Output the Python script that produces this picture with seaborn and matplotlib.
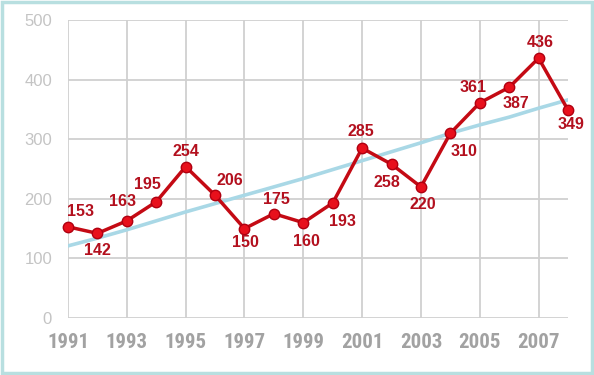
import matplotlib
matplotlib.use("Agg")
import matplotlib.pyplot as plt
from matplotlib.patches import Rectangle
import seaborn as sns
import pandas as pd

years = list(range(1991, 2009))
values = [153, 142, 163, 195, 254, 206, 150, 175, 160, 193, 285, 258, 220, 310, 361, 387, 436, 349]
trend = [121, 134, 148, 163, 178, 192, 206, 220, 234, 249, 264, 279, 294, 310, 324, 337, 352, 366]
xtick_years = [1991, 1993, 1995, 1997, 1999, 2001, 2003, 2005, 2007]
ytick_vals = [0, 100, 200, 300, 400, 500]
# label offsets in pixels (dx, dy), dy positive = up
label_offsets = [(13, 15), (0, -17), (-4, 19), (-9, 17), (0, 15), (15, 15), (1, -14), (3, 14),
                 (3, -19), (10, -19), (-1, 17), (-5, -18), (2, -18), (14, -18), (-7, 15), (7, -16),
                 (2, 16), (3, -15)]

df = pd.DataFrame({"year": years, "value": values, "trend": trend})

sns.set_style("white")
plt.rcParams["font.family"] = ["Liberation Sans", "DejaVu Sans"]

fig = plt.figure(figsize=(5.94, 3.75), dpi=100)
fig.patch.set_facecolor("white")
fig.patches.append(Rectangle((0.003, 0.005), 0.994, 0.99, transform=fig.transFigure,
                             fill=False, edgecolor="#b8dfe0", linewidth=2.5))
ax = fig.add_axes([68 / 594, 57 / 375, 500 / 594, 298 / 375])

sns.lineplot(data=df, x="year", y="trend", ax=ax, color="#a9d8e6", linewidth=2.6, zorder=3)
sns.lineplot(data=df, x="year", y="value", ax=ax, color="#c40a14", linewidth=2.5,
             marker="o", markersize=7.5, markerfacecolor="#e8101c", markeredgecolor="#b00010",
             markeredgewidth=1, zorder=4, clip_on=False)

for x, y, (dx, dy) in zip(years, values, label_offsets):
    ax.annotate(str(y), (x, y), xytext=(dx, dy), textcoords="offset pixels",
                ha="center", va="center", fontsize=11.5, fontweight="bold", color="#b3101e", zorder=5)

ax.set_xlim(1991, 2008)
ax.set_ylim(0, 500)
ax.set_xticks(xtick_years)
ax.set_yticks(ytick_vals)
ax.set_xlabel("")
ax.set_ylabel("")
for s in ax.spines.values():
    s.set_visible(False)
ax.grid(True, color="#d0d0d0", linewidth=1.3, zorder=0)
ax.set_axisbelow(True)
ax.tick_params(axis="y", length=9.5, width=1.3, color="#d0d0d0", labelcolor="#c4c4c4",
               labelsize=12, pad=2)
ax.tick_params(axis="x", length=5, width=1.3, color="#d0d0d0", labelcolor="#a2a2a2",
               labelsize=15, pad=6)
for lab in ax.get_xticklabels():
    lab.set_fontweight("bold")
    lab.set_family(["Roboto Condensed", "Liberation Sans", "DejaVu Sans"])

fig.savefig("out.png", dpi=100)
